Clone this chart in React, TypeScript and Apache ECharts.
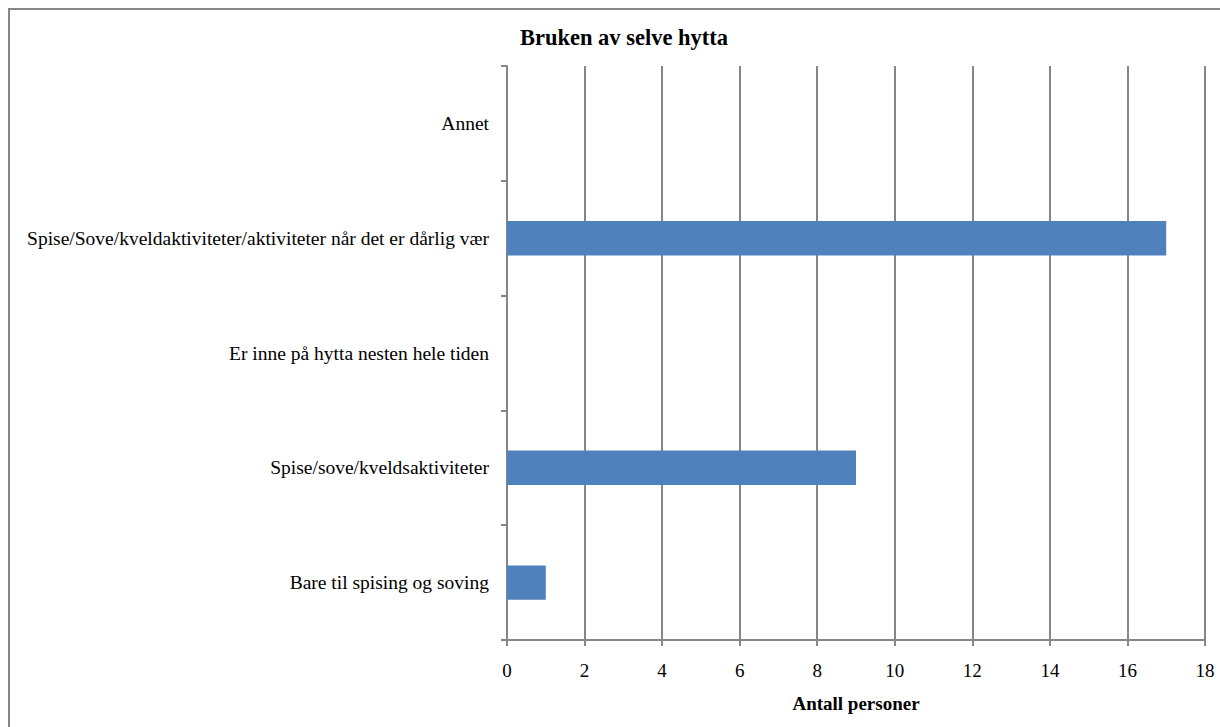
import React, { useEffect, useRef } from "react";
import * as echarts from "echarts";

const categories = [
  "Bare til spising og soving",
  "Spise/sove/kveldsaktiviteter",
  "Er inne på hytta nesten hele tiden",
  "Spise/Sove/kveldaktiviteter/aktiviteter når det er dårlig vær",
  "Annet",
];
const values = [1, 9, 0, 17, 0];
const xMin = 0;
const xMax = 18;
const xInterval = 2;

export default function App() {
  const ref = useRef<HTMLDivElement>(null);
  useEffect(() => {
    if (!ref.current) return;
    const chart = echarts.init(ref.current, undefined, { renderer: "svg" });
    const font = "'Liberation Serif', 'Times New Roman', serif";
    chart.setOption({
      animation: false,
      backgroundColor: "#ffffff",
      title: {
        text: "Bruken av selve hytta",
        left: 619,
        textAlign: "center",
        top: 21,
        textStyle: { fontFamily: font, fontSize: 22.5, fontWeight: "bold", color: "#000" },
      },
      graphic: [
        {
          type: "rect",
          shape: { x: 9, y: 9, width: 1400, height: 1000 },
          style: { fill: "none", stroke: "#868686", lineWidth: 2 },
          silent: true,
        },
      ],
      grid: { left: 507, right: 15, top: 66, bottom: 87, containLabel: false },
      xAxis: {
        type: "value",
        min: xMin,
        max: xMax,
        interval: xInterval,
        name: "Antall personer",
        nameLocation: "middle",
        nameGap: 54,
        nameTextStyle: { fontFamily: font, fontSize: 19, fontWeight: "bold", color: "#000" },
        axisLine: { show: true, lineStyle: { color: "#868686", width: 2 } },
        axisTick: { show: true, length: 6, lineStyle: { color: "#868686", width: 2 } },
        axisLabel: { fontFamily: font, fontSize: 19, color: "#000", margin: 21 },
        splitLine: { show: true, lineStyle: { color: "#868686", width: 2 } },
      },
      yAxis: {
        type: "category",
        data: categories,
        axisLine: { show: true, lineStyle: { color: "#868686", width: 2 } },
        axisTick: { show: true, length: 6, alignWithLabel: false, lineStyle: { color: "#868686", width: 2 } },
        axisLabel: { fontFamily: font, fontSize: 19.5, color: "#000", margin: 18 },
        splitLine: { show: false },
      },
      series: [
        {
          type: "bar",
          data: values,
          barWidth: "30%",
          itemStyle: { color: "#4F81BD" },
        },
      ],
    });
    return () => chart.dispose();
  }, []);
  return (
    <div
      ref={ref}
      style={{ position: "absolute", left: 0, top: 0, width: 1220, height: 727 }}
    />
  );
}
